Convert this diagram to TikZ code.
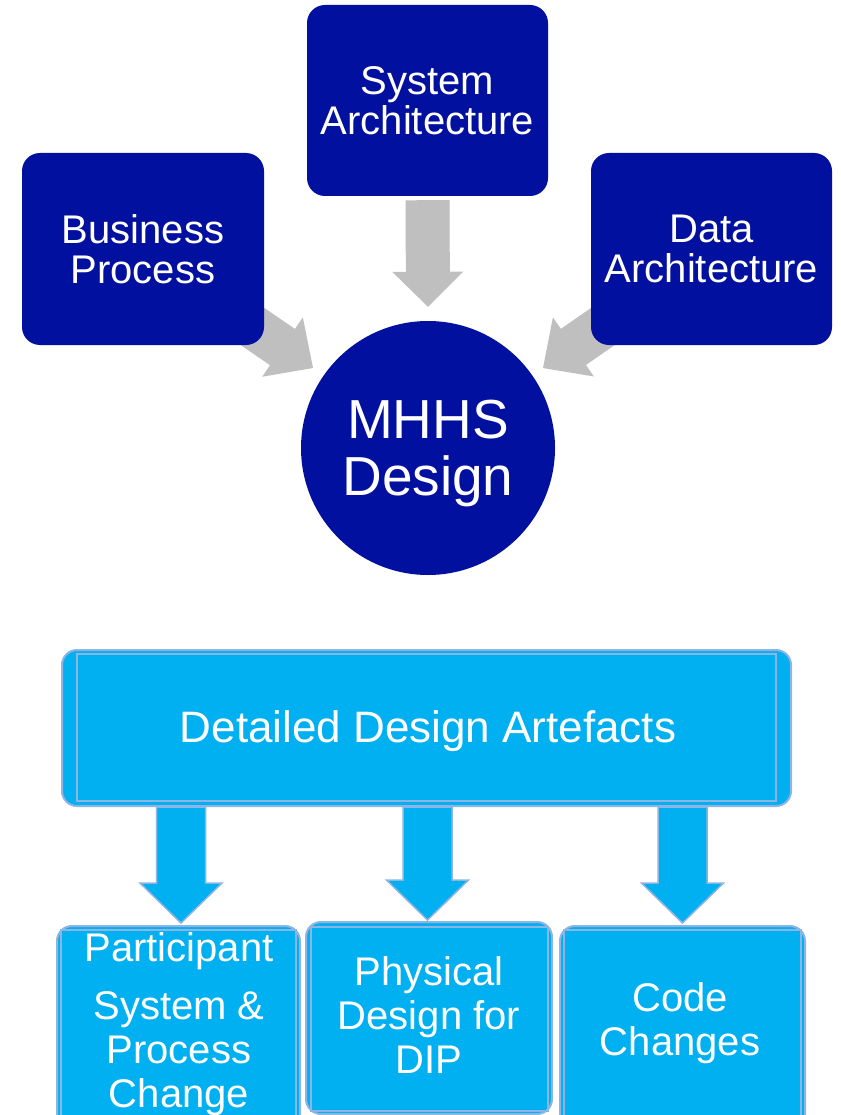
\documentclass[tikz,border=0pt]{standalone}
\usepackage{fontspec}
\setmainfont{Liberation Sans}
\usetikzlibrary{calc}
\pgfdeclarelayer{background}
\pgfsetlayers{background,main}
\definecolor{dkblue}{RGB}{2,16,160}
\definecolor{ltblue}{RGB}{0,176,240}
\definecolor{lvborder}{RGB}{142,180,227}
\definecolor{agray}{RGB}{191,191,191}

% #1 style, #2 start, #3 tip, #4 half shaft, #5 half head, #6 head length
\newcommand{\blockarrow}[6]{%
  \path (#2) coordinate (baS) (#3) coordinate (baE);
  \path ($(baE)!#6!(baS)$) coordinate (baH);
  \draw[#1] ($(baS)!#4!90:(baE)$) -- ($(baH)!#4!90:(baE)$) -- ($(baH)!#5!90:(baE)$) -- (baE)
    -- ($(baH)!#5!-90:(baE)$) -- ($(baH)!#4!-90:(baE)$) -- ($(baS)!#4!-90:(baE)$) -- cycle;
}

\begin{document}
\begin{tikzpicture}[x=1pt,y=-1pt,
  dbox/.style={rectangle, rounded corners=18pt, fill=dkblue, text=white, minimum width=242pt,
    minimum height=192pt, align=center, font=\fontsize{40}{40}\selectfont, inner sep=0pt},
  lbox/.style={rectangle, rounded corners=15pt, fill=ltblue, draw=lvborder, line width=2pt, inner sep=0pt},
  inline/.style={draw=lvborder, line width=1.2pt},
  ltext/.style={text=white, align=center, font=\fontsize{40}{44}\selectfont, anchor=base, inner sep=0pt},
  garrow/.style={fill=agray, draw=none},
  barrow/.style={fill=ltblue, draw=lvborder, line width=1.5pt, line join=miter}]
\path[use as bounding box, clip] (0,0) rectangle (840,1115);

% top part
\node[dbox] (bp) at (143,249) {Business\\Process};
\node[dbox, minimum width=241pt, minimum height=191pt] (sa) at (427.5,100.5) {System\\Architecture};
\node[dbox, minimum width=241pt] (da) at (711.5,249) {Data\\Architecture};
\node[circle, fill=dkblue, minimum size=254pt, inner sep=0pt] (mh) at (428,448) {};
\node[text=white, align=center, font=\fontsize{55}{57}\selectfont, inner sep=0pt] (mht) at (428,454) {MHHS\\Design};

% bottom part
\node[lbox, minimum width=729pt, minimum height=156pt] (dda) at (426.5,728) {};
\draw[inline] ($(dda.north west)+(16,5)$) rectangle ($(dda.south east)+(-16,-6)$);
\node[text=white, font=\fontsize{44}{44}\selectfont, inner sep=0pt] (ddat) at (428,731) {Detailed Design Artefacts};

\node[lbox, minimum width=243pt, minimum height=205pt, anchor=north] (p1) at (178.5,925) {};
\node[lbox, minimum width=246pt, minimum height=192pt, anchor=north] (p2) at (429,921) {};
\node[lbox, minimum width=245pt, minimum height=205pt, anchor=north] (p3) at (682.5,925) {};
\draw[inline] ($(p1.north west)+(5,5)$) rectangle ($(p1.south east)+(-5,-5)$);
\draw[inline] ($(p2.north west)+(6,6)$) rectangle ($(p2.south east)+(-5,-4)$);
\draw[inline] ($(p3.north west)+(5,5)$) rectangle ($(p3.south east)+(-5,-5)$);

\node[ltext] (t1) at (179,1107) {Participant\\[14pt]System \&\\Process\\Change};
\node[ltext] (t2) at (429,1073) {Physical\\Design for\\DIP};
\node[ltext] (t3) at (680,1055) {Code\\Changes};

\coordinate (a1e) at ($(p1.north)+(2.5,-2)$);
\coordinate (a2e) at ($(p2.north)+(-1.5,-1)$);
\coordinate (a3e) at ($(p3.north)+(0,-2)$);
\coordinate (glt) at ($(mh.center)+(-115,-80)$);
\coordinate (grt) at ($(mh.center)+(115,-80)$);

\begin{pgfonlayer}{background}
\blockarrow{garrow}{$(sa.south)+(0,4)$}{$(mh.north)+(0,-14)$}{22pt}{35.5pt}{35pt}
\blockarrow{garrow}{$(bp.south east)+(-50,-45)$}{glt}{22pt}{36pt}{37pt}
\blockarrow{garrow}{$(da.south west)+(50,-45)$}{grt}{22pt}{36pt}{37pt}
\blockarrow{barrow}{dda.south -| a1e}{a1e}{24.5pt}{41pt}{40pt}
\blockarrow{barrow}{dda.south -| a2e}{a2e}{24.5pt}{41pt}{40pt}
\blockarrow{barrow}{dda.south -| a3e}{a3e}{24.5pt}{41pt}{40pt}
\end{pgfonlayer}
\end{tikzpicture}
\end{document}
